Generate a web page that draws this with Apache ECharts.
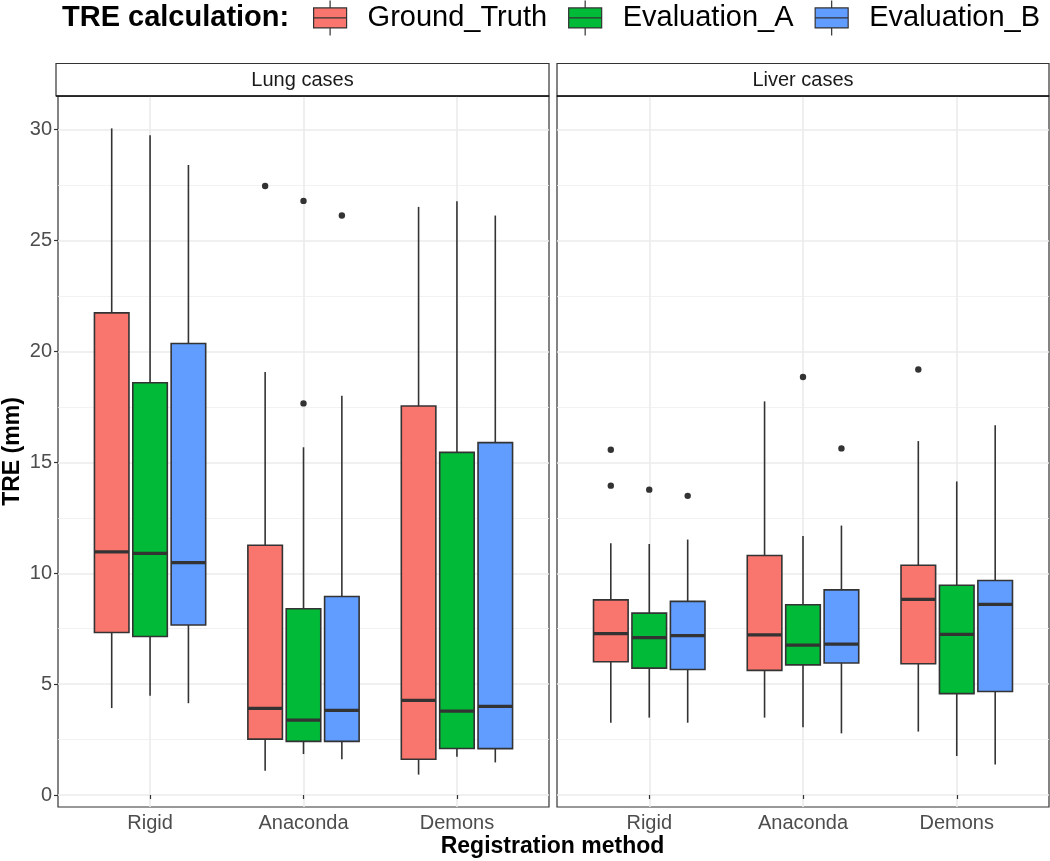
<!DOCTYPE html>
<html><head><meta charset="utf-8">
<script src="https://cdn.jsdelivr.net/npm/echarts@6/dist/echarts.min.js"></script>
<style>html,body{margin:0;padding:0;background:#fff}#c{width:1050px;height:861px}</style>
</head><body><div id="c"></div>
<script>
// ---------------- data ----------------
const categories = ['Rigid', 'Anaconda', 'Demons'];
const groups = ['Ground_Truth', 'Evaluation_A', 'Evaluation_B'];
const panels = ['Lung cases', 'Liver cases'];
const yTicks = [0, 5, 10, 15, 20, 25, 30];
const yMinorTicks = [2.5, 7.5, 12.5, 17.5, 22.5, 27.5];

// [lower whisker, Q1, median, Q3, upper whisker] per category
const lungGroundTruth  = [[3.92, 7.33, 10.96, 21.74, 30.06], [1.10, 2.52, 3.91, 11.26, 19.07], [0.92, 1.61, 4.27, 17.54, 26.52]];
const lungEvaluationA  = [[4.48, 7.15, 10.90, 18.59, 29.75], [1.85, 2.42, 3.38, 8.40, 15.68], [1.73, 2.10, 3.78, 15.45, 26.77]];
const lungEvaluationB  = [[4.14, 7.67, 10.48, 20.36, 28.41], [1.61, 2.42, 3.82, 8.95, 18.00], [1.47, 2.09, 4.00, 15.89, 26.13]];
const liverGroundTruth = [[3.26, 6.01, 7.28, 8.80, 11.35], [3.49, 5.62, 7.22, 10.80, 17.75], [2.86, 5.92, 8.82, 10.36, 15.96]];
const liverEvaluationA = [[3.49, 5.72, 7.10, 8.20, 11.32], [3.06, 5.87, 6.76, 8.58, 11.68], [1.76, 4.57, 7.24, 9.46, 14.14]];
const liverEvaluationB = [[3.26, 5.66, 7.19, 8.73, 11.52], [2.78, 5.95, 6.80, 9.25, 12.15], [1.38, 4.67, 8.60, 9.67, 16.67]];

// outliers: [category index (0-based), value]
const lungOutliersGroundTruth  = [[1, 27.46]];
const lungOutliersEvaluationA  = [[1, 26.79], [1, 17.66]];
const lungOutliersEvaluationB  = [[1, 26.13]];
const liverOutliersGroundTruth = [[0, 15.57], [0, 13.95], [2, 19.19]];
const liverOutliersEvaluationA = [[0, 13.77], [1, 18.85]];
const liverOutliersEvaluationB = [[0, 13.49], [1, 15.63]];

// ---------------- style ----------------
const FONT = '"Liberation Sans", Arial, Helvetica, sans-serif';
const COLORS = ['#F8766D', '#00BA38', '#619CFF'];
const DODGE = 0.25, BOX_W = 0.225;
const Y_MIN = -0.54, Y_MAX = 31.52;
const GRIDS = [{left: 56, top: 96, width: 493, height: 711}, {left: 557, top: 96, width: 492, height: 711}];

const panelBoxes = [[lungGroundTruth, lungEvaluationA, lungEvaluationB], [liverGroundTruth, liverEvaluationA, liverEvaluationB]];
const panelOutliers = [[lungOutliersGroundTruth, lungOutliersEvaluationA, lungOutliersEvaluationB],
                       [liverOutliersGroundTruth, liverOutliersEvaluationA, liverOutliersEvaluationB]];

function makeBox(g) {
  return function (params, api) {
    const x = api.value(0) + (g - 1) * DODGE;
    const lo = api.coord([x, api.value(1)]);
    const q1 = api.coord([x, api.value(2)]);
    const med = api.coord([x, api.value(3)]);
    const q3 = api.coord([x, api.value(4)]);
    const hi = api.coord([x, api.value(5)]);
    const hw = api.size([BOX_W, 0])[0] / 2;
    const cx = lo[0];
    const ls = {stroke: '#333333', lineWidth: 1.6};
    return {type: 'group', children: [
      {type: 'line', shape: {x1: cx, y1: hi[1], x2: cx, y2: q3[1]}, style: ls},
      {type: 'line', shape: {x1: cx, y1: q1[1], x2: cx, y2: lo[1]}, style: ls},
      {type: 'rect', shape: {x: cx - hw, y: q3[1], width: 2 * hw, height: q1[1] - q3[1]},
        style: {fill: api.visual('color'), stroke: '#333333', lineWidth: 1.6}},
      {type: 'line', shape: {x1: cx - hw, y1: med[1], x2: cx + hw, y2: med[1]}, style: {stroke: '#333333', lineWidth: 3.2}}
    ]};
  };
}
function makeOutlier(g) {
  return function (params, api) {
    const x = api.value(0) + (g - 1) * DODGE;
    const p = api.coord([x, api.value(1)]);
    return {type: 'circle', shape: {cx: p[0], cy: p[1], r: 3.2}, style: {fill: '#333333'}};
  };
}

const series = [];
panelBoxes.forEach((grpArr, p) => grpArr.forEach((stats, g) => {
  series.push({
    type: 'custom', name: groups[g], xAxisIndex: p, yAxisIndex: p * 2,
    itemStyle: {color: COLORS[g]}, encode: {x: 0, y: [1, 2, 3, 4, 5]},
    data: stats.map((s, i) => [i + 1].concat(s)), renderItem: makeBox(g), z: 3
  });
}));
panelOutliers.forEach((grpArr, p) => grpArr.forEach((pts, g) => {
  series.push({
    type: 'custom', name: groups[g], xAxisIndex: p, yAxisIndex: p * 2,
    itemStyle: {color: COLORS[g]}, encode: {x: 0, y: 1},
    data: pts.map(d => [d[0] + 1, d[1]]), renderItem: makeOutlier(g), z: 4
  });
}));

const xAxes = GRIDS.map((gr, p) => ({
  type: 'value', gridIndex: p, min: 0.4, max: 3.6,
  axisLine: {show: false},
  axisTick: {show: true, length: 4, customValues: [1, 2, 3], lineStyle: {color: '#333333', width: 1.2}},
  axisLabel: {customValues: [1, 2, 3], formatter: v => categories[Math.round(v) - 1], fontSize: 20, color: '#4d4d4d', fontFamily: FONT, margin: 6},
  splitLine: {show: true, lineStyle: {color: '#ebebeb', width: 1.6}}
}));
const yAxes = [];
GRIDS.forEach((gr, p) => {
  yAxes.push({
    type: 'value', gridIndex: p, min: Y_MIN, max: Y_MAX, position: 'left',
    axisLine: {show: false},
    axisTick: {show: p === 0, length: 4, customValues: yTicks, lineStyle: {color: '#333333', width: 1.2}},
    axisLabel: {show: p === 0, customValues: yTicks, fontSize: 20, color: '#4d4d4d', fontFamily: FONT, margin: 6},
    splitLine: {show: true, lineStyle: {color: '#ebebeb', width: 1.6}},
    name: p === 0 ? 'TRE (mm)' : '', nameLocation: 'middle', nameGap: 34,
    nameTextStyle: {fontSize: 23, fontWeight: 'bold', color: '#000', fontFamily: FONT}
  });
  yAxes.push({
    type: 'value', gridIndex: p, min: Y_MIN, max: Y_MAX, position: 'left',
    axisLine: {show: false}, axisLabel: {show: false, customValues: yMinorTicks},
    axisTick: {show: false, customValues: yMinorTicks},
    splitLine: {show: true, lineStyle: {color: '#efefef', width: 0.8}}
  });
});

const ICON = 'path://M16.5,0V7.3M0,7.3H33V27.3H0ZM0,17.3H33M16.5,27.3V35';

const graphic = [];
GRIDS.forEach((gr, p) => {
  graphic.push({type: 'rect', shape: {x: gr.left, y: 63.5, width: gr.width, height: gr.top - 63.5},
    style: {fill: '#ffffff', stroke: '#333333', lineWidth: 1.2}, z: 10});
  graphic.push({type: 'line', shape: {x1: gr.left, y1: gr.top, x2: gr.left + gr.width, y2: gr.top},
    style: {stroke: '#111111', lineWidth: 1.6}, z: 11});
  graphic.push({type: 'text', x: gr.left + gr.width / 2, y: 80,
    style: {text: panels[p], fontSize: 20, fill: '#1a1a1a', fontFamily: FONT, textAlign: 'center', textVerticalAlign: 'middle'}, z: 11});
});
graphic.push({type: 'text', x: 552.5, y: 847,
  style: {text: 'Registration method', fontSize: 23, fontWeight: 'bold', fill: '#000', fontFamily: FONT, textAlign: 'center', textVerticalAlign: 'middle'}});
graphic.push({type: 'text', x: 62, y: 18,
  style: {text: 'TRE calculation:', fontSize: 29, fontWeight: 'bold', fill: '#000', fontFamily: FONT, textAlign: 'left', textVerticalAlign: 'middle'}});

const chart = echarts.init(document.getElementById('c'), null, {renderer: 'canvas'});
chart.setOption({
  animation: false,
  backgroundColor: '#ffffff',
  grid: GRIDS.map(g => Object.assign({show: true, borderColor: '#333333', borderWidth: 1.2, backgroundColor: 'transparent', containLabel: false}, g)),
  xAxis: xAxes,
  yAxis: yAxes,
  legend: {
    left: 313, top: 0, width: 737, padding: 0, itemWidth: 33, itemHeight: 35, itemGap: 21, icon: ICON, selectedMode: false,
    itemStyle: {borderColor: '#333333', borderWidth: 1.2},
    textStyle: {fontSize: 29, color: '#000', fontFamily: FONT, padding: [0, 0, 0, 16]},
    data: groups
  },
  graphic: graphic,
  series: series
});
</script></body></html>
